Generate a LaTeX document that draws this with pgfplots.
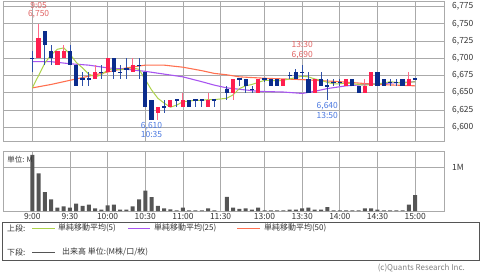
\documentclass[border=0pt]{standalone}
\usepackage{pgfplots}
\pgfplotsset{compat=1.18}
\usepackage{pgfplotstable}
\usepackage{fontspec}
\setmainfont{Noto Sans CJK JP}

\definecolor{cRed}{HTML}{FF1F4F}
\definecolor{cRedW}{HTML}{FF6A88}
\definecolor{cBlue}{HTML}{0B2C8C}
\definecolor{cBlueW}{HTML}{2E50A8}
\definecolor{cMAa}{HTML}{ACD24A}
\definecolor{cMAb}{HTML}{A855F0}
\definecolor{cMAc}{HTML}{FF7050}
\definecolor{cGrid}{HTML}{AAAAAA}
\definecolor{cVol}{HTML}{555555}
\definecolor{cText}{HTML}{333333}
\definecolor{cAnnR}{HTML}{E06464}
\definecolor{cAnnB}{HTML}{4A78E0}

% up (red) candles
\pgfplotstableread{
i o h l c
1 6700 6750 6700 6730
4 6690 6710 6690 6710
5 6700 6720 6700 6710
10 6670 6690 6670 6680
12 6680 6700 6680 6700
16 6680 6700 6680 6690
20 6620 6630 6610 6630
22 6630 6640 6630 6640
24 6630 6650 6630 6640
28 6630 6650 6630 6640
32 6650 6670 6640 6670
36 6650 6670 6650 6670
40 6660 6670 6660 6670
45 6650 6670 6650 6670
50 6660 6670 6660 6670
53 6650 6670 6650 6660
54 6660 6680 6660 6680
60 6660 6680 6660 6670
}\upcandles

% down (blue) candles and doji
\pgfplotstableread{
i o h l c
0 6700 6710 6680 6700
2 6740 6740 6690 6720
3 6710 6720 6690 6700
6 6710 6720 6690 6690
7 6690 6690 6660 6660
8 6670 6680 6660 6670
9 6670 6680 6660 6670
11 6680 6690 6670 6680
13 6700 6700 6670 6680
14 6680 6690 6670 6680
15 6685 6700 6670 6685
17 6690 6700 6670 6690
18 6680 6680 6630 6630
19 6640 6640 6610 6610
21 6630 6640 6620 6630
23 6640 6640 6630 6640
25 6640 6640 6630 6630
26 6640 6640 6630 6640
27 6640 6640 6630 6640
29 6640 6640 6630 6640
31 6655 6660 6640 6650
33 6670 6670 6660 6670
34 6670 6670 6650 6660
35 6655 6660 6650 6655
37 6670 6670 6665 6670
38 6670 6670 6660 6660
39 6670 6670 6660 6660
41 6675 6680 6670 6675
42 6680 6685 6670 6670
43 6680 6690 6670 6680
44 6670 6680 6650 6650
46 6670 6680 6660 6660
47 6660 6670 6640 6660
48 6665 6670 6660 6665
49 6665 6670 6660 6665
51 6670 6670 6660 6660
52 6660 6660 6650 6650
55 6680 6680 6660 6660
56 6670 6670 6660 6660
57 6665 6670 6660 6665
58 6665 6670 6660 6665
59 6670 6670 6660 6660
61 6670 6672 6668 6670
}\downcandles

\pgfplotstableread{
i v
0 1.30
1 0.87
2 0.44
3 0.27
4 0.08
5 0.11
6 0.08
7 0.17
8 0.12
9 0.15
10 0.06
11 0.03
12 0.13
13 0.15
14 0.03
15 0.03
16 0.11
17 0.27
18 0.47
19 0.32
20 0.12
21 0.06
22 0.04
23 0.015
24 0.08
25 0.015
26 0.015
27 0.015
28 0.06
29 0.015
31 0.33
32 0.08
33 0.05
34 0.06
35 0.03
36 0.08
37 0.015
38 0.015
39 0.015
40 0.015
41 0.03
42 0.03
43 0.06
44 0.08
45 0.03
46 0.03
47 0.09
48 0.015
49 0.015
50 0.015
51 0.015
52 0.015
53 0.06
54 0.06
55 0.03
56 0.015
57 0.015
58 0.015
59 0.015
60 0.15
61 0.37
}\volume

\pgfplotstableread{
i v
0 6657
1 6675
2 6693
3 6705
4 6713
5 6715
6 6706
7 6694
8 6686
9 6677
10 6673
11 6676
12 6683
13 6685
14 6683
15 6685
16 6686
17 6684
18 6669
19 6654
20 6642
21 6635
22 6629
23 6632
24 6637
25 6638
26 6639
27 6639
28 6640
29 6640
31 6642
32 6647
33 6656
34 6660
35 6662
36 6665
37 6668
38 6668
39 6667
40 6668
41 6670
42 6672
43 6674
44 6673
45 6670
46 6668
47 6665
48 6663
49 6663
50 6664
51 6663
52 6662
53 6661
54 6662
55 6663
56 6664
57 6666
58 6665
59 6664
60 6665
61 6666
}\maFive

\pgfplotstableread{
i v
0 6695
3 6695
6 6692
9 6690
12 6686
15 6684
18 6681
21 6677
24 6673
27 6666
29 6661
31 6657
33 6655
36 6652
40 6651
43 6649
45 6652
47 6656
50 6660
55 6663
61 6666
}\maTwentyFive

\pgfplotstableread{
i v
0 6657
3 6662
6 6668
9 6674
12 6680
15 6686
18 6690
21 6690
24 6687
27 6682
29 6678
31 6676
33 6673
37 6671
43 6669
49 6666
55 6662
61 6660
}\maFifty

\begin{document}
\begin{tikzpicture}[x=1bp,y=1bp]
\useasboundingbox (0,0) rectangle (480,272);
\pgfplotsset{
  every tick label/.append style={font=\fontsize{8.5}{9}\selectfont, text=cText},
  candle/.style n args={2}{draw=none, mark=none, forget plot,
    error bars/.cd, y dir=both, y explicit, error mark=none,
    error bar style={line width=#1, draw=#2, solid}},
}
% ---------- upper panel ----------
\begin{axis}[
  at={(3bp,131bp)}, anchor=south west,
  scale only axis, width=441bp, height=140bp,
  xmin=-4.67, xmax=65.6, ymin=6580, ymax=6783,
  xtick={0,6,12,18,24,30,37,43,49,55,61}, xticklabels={},
  ytick={6600,6625,6650,6675,6700,6725,6750,6775},
  yticklabels={{6,600},{6,625},{6,650},{6,675},{6,700},{6,725},{6,750},{6,775}},
  yticklabel pos=right,
  yticklabel style={anchor=west, inner sep=0pt, xshift=8bp},
  major tick length=0pt,
  grid=major, major grid style={cGrid, line width=0.8bp},
  axis line style={cGrid, line width=0.8bp},
  clip=false,
]
\addplot[color=cMAc, line width=1.1bp, mark=none] table[x=i,y=v] \maFifty;
\addplot[color=cMAb, line width=1.1bp, mark=none] table[x=i,y=v] \maTwentyFive;
\addplot[color=cMAa, line width=1bp, mark=none] table[x=i,y=v] \maFive;
% wicks
\addplot[candle={0.9bp}{cRedW}]
  table[x=i, y expr={(\thisrow{h}+\thisrow{l})/2}, y error expr={(\thisrow{h}-\thisrow{l})/2}] \upcandles;
\addplot[candle={0.9bp}{cBlueW}]
  table[x=i, y expr={(\thisrow{h}+\thisrow{l})/2}, y error expr={(\thisrow{h}-\thisrow{l})/2}] \downcandles;
% bodies
\addplot[candle={4.2bp}{cRed}]
  table[x=i, y expr={(\thisrow{o}+\thisrow{c})/2}, y error expr={max(abs(\thisrow{o}-\thisrow{c})/2,0.75)}] \upcandles;
\addplot[candle={4.2bp}{cBlue}]
  table[x=i, y expr={(\thisrow{o}+\thisrow{c})/2}, y error expr={max(abs(\thisrow{o}-\thisrow{c})/2,0.75)}] \downcandles;
% annotations
\node[font=\fontsize{8.5}{9}\selectfont, text=cAnnR] at (axis cs:1,6776.5) {9:05};
\node[font=\fontsize{8.5}{9}\selectfont, text=cAnnR] at (axis cs:1,6764.0) {6,750};
\node[font=\fontsize{8.5}{9}\selectfont, text=cAnnB] at (axis cs:19,6601.9) {6,610};
\node[font=\fontsize{8.5}{9}\selectfont, text=cAnnB] at (axis cs:19,6588.8) {10:35};
\node[font=\fontsize{8.5}{9}\selectfont, text=cAnnR] at (axis cs:43,6719.4) {13:30};
\node[font=\fontsize{8.5}{9}\selectfont, text=cAnnR] at (axis cs:43,6704.2) {6,690};
\node[font=\fontsize{8.5}{9}\selectfont, text=cAnnB] at (axis cs:47,6630.2) {6,640};
\node[font=\fontsize{8.5}{9}\selectfont, text=cAnnB] at (axis cs:47,6616.4) {13:50};
\end{axis}
% ---------- lower panel ----------
\begin{axis}[
  at={(3bp,61bp)}, anchor=south west,
  scale only axis, width=441bp, height=60bp,
  xmin=-4.67, xmax=65.6, ymin=0, ymax=1.39,
  xtick={0,6,12,18,24,30,37,43,49,55,61},
  xticklabels={9:00,9:30,10:00,10:30,11:00,11:30,13:00,13:30,14:00,14:30,15:00},
  xticklabel style={inner sep=0pt, yshift=-2bp},
  ytick={1}, yticklabels={1M},
  yticklabel pos=right,
  yticklabel style={anchor=west, inner sep=0pt, xshift=8bp},
  major tick length=0pt,
  grid=major, major grid style={cGrid, line width=0.8bp},
  axis line style={cGrid, line width=0.8bp},
]
\addplot[ybar, bar width=4bp, fill=cVol, draw=none] table[x=i,y=v] \volume;
\node[anchor=north west, inner sep=0pt, font=\fontsize{7.5}{8}\selectfont, text=cText] at (axis cs:-4.0,1.28) {単位: M};
\end{axis}
% ---------- legend box ----------
\draw[cVol, line width=0.8bp] (2,12) rectangle (479,50);
\begin{scope}[every node/.style={font=\fontsize{8}{9}\selectfont, text=cText, anchor=west, inner sep=0pt}]
\node at (7,43.7) {上段:};
\draw[cMAa, line width=1.5bp] (32,43.7) -- (55,43.7);
\node at (58,43.7) {単純移動平均(5)};
\draw[cMAb, line width=1.5bp] (128,43.7) -- (150,43.7);
\node at (154,43.7) {単純移動平均(25)};
\draw[cMAc, line width=1.5bp] (237,43.7) -- (260,43.7);
\node at (264,43.7) {単純移動平均(50)};
\node at (7,19.7) {下段:};
\draw[cVol, line width=1.5bp] (32,19.7) -- (55,19.7);
\node at (62,19.7) {出来高 単位:(M株/口/枚)};
\end{scope}
\node[anchor=east, inner sep=0pt, font=\fontsize{8}{9}\selectfont, text=gray] at (465,3.9) {(c)Quants Research Inc.};
\end{tikzpicture}
\end{document}
